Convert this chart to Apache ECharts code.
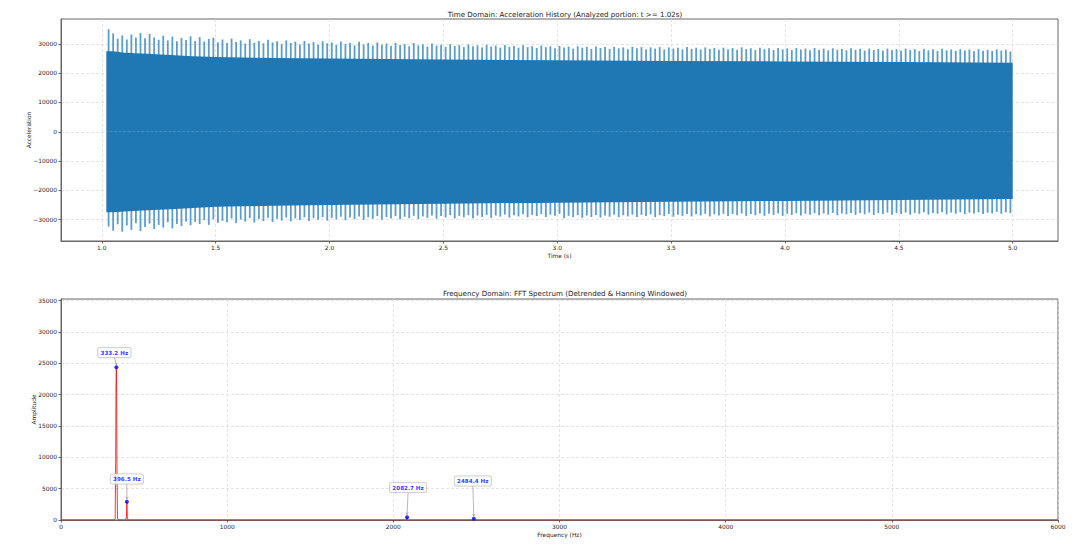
<!DOCTYPE html>
<html>
<head>
<meta charset="utf-8">
<title>Acceleration history and FFT spectrum</title>
<script src="https://cdn.jsdelivr.net/npm/echarts@6/dist/echarts.min.js"></script>
<style>
  html, body { margin: 0; padding: 0; background: #fff; }
  #main { width: 1080px; height: 554px; }
</style>
</head>
<body>
<div id="main"></div>
<script>
// ---- tick labels ----
const timeTicks = [1.0, 1.5, 2.0, 2.5, 3.0, 3.5, 4.0, 4.5, 5.0];
const accelTicks = [-30000, -20000, -10000, 0, 10000, 20000, 30000];
const freqTicks = [0, 1000, 2000, 3000, 4000, 5000, 6000];
const ampTicks = [0, 5000, 10000, 15000, 20000, 25000, 30000, 35000];

// ---- time domain: max / min of the signal per 0.02 s bin ----
const spikeTimes = [
  1.03, 1.05, 1.07, 1.09, 1.11, 1.13, 1.15, 1.17, 1.19, 1.21,
  1.23, 1.25, 1.27, 1.29, 1.31, 1.33, 1.35, 1.37, 1.39, 1.41,
  1.43, 1.45, 1.47, 1.49, 1.51, 1.53, 1.55, 1.57, 1.59, 1.61,
  1.63, 1.65, 1.67, 1.69, 1.71, 1.73, 1.75, 1.77, 1.79, 1.81,
  1.83, 1.85, 1.87, 1.89, 1.91, 1.93, 1.95, 1.97, 1.99, 2.01,
  2.03, 2.05, 2.07, 2.09, 2.11, 2.13, 2.15, 2.17, 2.19, 2.21,
  2.23, 2.25, 2.27, 2.29, 2.31, 2.33, 2.35, 2.37, 2.39, 2.41,
  2.43, 2.45, 2.47, 2.49, 2.51, 2.53, 2.55, 2.57, 2.59, 2.61,
  2.63, 2.65, 2.67, 2.69, 2.71, 2.73, 2.75, 2.77, 2.79, 2.81,
  2.83, 2.85, 2.87, 2.89, 2.91, 2.93, 2.95, 2.97, 2.99, 3.01,
  3.03, 3.05, 3.07, 3.09, 3.11, 3.13, 3.15, 3.17, 3.19, 3.21,
  3.23, 3.25, 3.27, 3.29, 3.31, 3.33, 3.35, 3.37, 3.39, 3.41,
  3.43, 3.45, 3.47, 3.49, 3.51, 3.53, 3.55, 3.57, 3.59, 3.61,
  3.63, 3.65, 3.67, 3.69, 3.71, 3.73, 3.75, 3.77, 3.79, 3.81,
  3.83, 3.85, 3.87, 3.89, 3.91, 3.93, 3.95, 3.97, 3.99, 4.01,
  4.03, 4.05, 4.07, 4.09, 4.11, 4.13, 4.15, 4.17, 4.19, 4.21,
  4.23, 4.25, 4.27, 4.29, 4.31, 4.33, 4.35, 4.37, 4.39, 4.41,
  4.43, 4.45, 4.47, 4.49, 4.51, 4.53, 4.55, 4.57, 4.59, 4.61,
  4.63, 4.65, 4.67, 4.69, 4.71, 4.73, 4.75, 4.77, 4.79, 4.81,
  4.83, 4.85, 4.87, 4.89, 4.91, 4.93, 4.95, 4.97, 4.99
];
const spikeHigh = [
  35000, 33600, 31800, 32900, 31500, 33200, 32100, 33700, 31900, 33400,
  32200, 31400, 32800, 31200, 32500, 30900, 32000, 31300, 32600, 31000,
  32300, 30800, 31700, 32100, 30600, 31500, 30300, 31800, 30700, 31200,
  30100, 31600, 30400, 31000, 30200, 31400, 30500, 30900, 29900, 31200,
  30300, 30800, 29800, 31000, 30100, 30600, 29700, 30900, 30200, 30500,
  29600, 30800, 29900, 30400, 29500, 30700, 29800, 30300, 29400, 30500,
  29700, 30100, 29300, 30400, 29600, 29900, 29200, 30300, 29500, 29800,
  29100, 30100, 29400, 29700, 29000, 29900, 29300, 29600, 28900, 29800,
  29200, 29500, 28800, 29700, 29100, 29400, 28700, 29600, 29000, 29300,
  28700, 29500, 28900, 29200, 28600, 29400, 28900, 29200, 28500, 29300,
  28800, 29100, 28400, 29200, 28700, 29000, 28300, 29100, 28600, 28900,
  28300, 29000, 28500, 28800, 28200, 29000, 28500, 28900, 28200, 28800,
  28400, 28900, 28100, 28800, 28400, 28700, 28100, 28900, 28300, 28700,
  28100, 28800, 28300, 28600, 28000, 28700, 28200, 28600, 28000, 28800,
  28200, 28500, 27900, 28700, 28200, 28500, 27900, 28600, 28100, 28500,
  27900, 28600, 28100, 28400, 27800, 28600, 28000, 28400, 27800, 28500,
  28000, 28300, 27800, 28500, 28000, 28300, 27700, 28400, 27900, 28300,
  27700, 28400, 27900, 28200, 27700, 28400, 27900, 28200, 27600, 28300,
  27800, 28200, 27600, 28300, 27800, 28100, 27600, 28200, 27800, 28100,
  27500, 28200, 27700, 28000, 27600, 28100, 27700, 28000, 27400
];
const spikeLow = [
  -32400, -33800, -31600, -34100, -32000, -33500, -31200, -33900, -32500, -31400,
  -33200, -31800, -32700, -30900, -33000, -31500, -32200, -30600, -31900, -30800,
  -31500, -30200, -31800, -29900, -31100, -30400, -30900, -29600, -31200, -30000,
  -30700, -29500, -31000, -29800, -30500, -29400, -30800, -29700, -30300, -29300,
  -30600, -29600, -30100, -29200, -30500, -29500, -30000, -29100, -30300, -29400,
  -29900, -29000, -30200, -29300, -29800, -28900, -30100, -29200, -29700, -28800,
  -30000, -29100, -29600, -28800, -29900, -29000, -29500, -28700, -29800, -28900,
  -29400, -28600, -29700, -28800, -29300, -28500, -29600, -28700, -29200, -28500,
  -29500, -28600, -29100, -28400, -29400, -28600, -29000, -28300, -29300, -28500,
  -28900, -28200, -29200, -28400, -28800, -28100, -29100, -28300, -28700, -28000,
  -29500, -28700, -29200, -28500, -29400, -28600, -29100, -28400, -29300, -28600,
  -29000, -28300, -29200, -28500, -28900, -28300, -29100, -28400, -28800, -28200,
  -29100, -28400, -28800, -28100, -29000, -28300, -28700, -28100, -28900, -28200,
  -28600, -28000, -28900, -28200, -28600, -28000, -28800, -28100, -28500, -27900,
  -28800, -28100, -28500, -27900, -28700, -28000, -28400, -27900, -28700, -28000,
  -28400, -27800, -28600, -28000, -28300, -27800, -28500, -27900, -28300, -27700,
  -28500, -27900, -28200, -27700, -28400, -27800, -28200, -27600, -28400, -27800,
  -28100, -27600, -28300, -27700, -28100, -27600, -28300, -27700, -28000, -27500,
  -28300, -27700, -28000, -27500, -28200, -27600, -28000, -27500, -28100, -27600,
  -27900, -27500, -28100, -27600, -27900, -27400, -28000, -27500, -27800
];

// dense (solid) part of the oscillation
const coreTimes = [1.02, 1.05, 1.1, 1.2, 1.3, 1.4, 1.5, 1.75, 2.0, 2.5, 3.0, 3.5, 4.0, 4.5, 5.0];
const coreUpper = [27500, 27500, 27000, 26600, 26200, 25800, 25500, 25200, 25000, 24700, 24400, 24200, 24000, 23800, 23600];
const coreLower = [-27500, -27500, -27200, -26800, -26500, -26000, -25600, -25300, -25000, -24600, -24200, -23900, -23600, -23300, -23000];

// ---- frequency domain ----
const specFreq = [0, 320, 326, 329, 331, 333.2, 335, 337, 340, 346, 390, 394, 396.5, 399, 403,
  2075, 2080, 2082.7, 2085, 2090, 2477, 2482, 2484.4, 2487, 2492, 6000];
const specAmp = [0, 0, 200, 9000, 21000, 24350, 20000, 8000, 300, 0, 0, 600, 2920, 500, 0,
  0, 80, 430, 70, 0, 0, 40, 200, 30, 0, 0];
const peakFreqs = [333.2, 396.5, 2082.7, 2484.4];
const peakAmps = [24350, 2920, 430, 200];

// annotation placement (pixels above / beside each peak)
const annoLift = [15, 23, 30, 38];
const annoShift = [-2, 0, 1, -1];

const FONT = 'DejaVu Sans';
const TEXT = '#222';
const plain = (v) => String(v).replace('-', '\u2212');

const chart = echarts.init(document.getElementById('main'), null, { renderer: 'svg' });

const gridLine = { show: true, lineStyle: { color: '#d8d8d8', width: 0.7, type: [3, 2] } };
const axisLineStyle = { show: true, onZero: false, lineStyle: { color: '#666', width: 1 } };
const tickStyle = { show: true, length: 2.5, lineStyle: { color: '#444', width: 0.8 } };
const labelStyle = { color: TEXT, fontFamily: FONT, fontSize: 5.9, margin: 4 };
const nameStyle = { color: TEXT, fontFamily: FONT, fontSize: 5.9 };

const option = {
  animation: false,
  textStyle: { fontFamily: FONT },
  title: [
    {
      text: 'Time Domain: Acceleration History (Analyzed portion: t >= 1.02s)',
      left: 560, top: 6, textAlign: 'center',
      textStyle: { fontFamily: FONT, fontSize: 7.1, fontWeight: 'normal', color: TEXT },
    },
    {
      text: 'Frequency Domain: FFT Spectrum (Detrended & Hanning Windowed)',
      left: 560, top: 285, textAlign: 'center',
      textStyle: { fontFamily: FONT, fontSize: 7.1, fontWeight: 'normal', color: TEXT },
    },
  ],
  grid: [
    { left: 61, right: 22, top: 19, height: 222, show: true, borderColor: '#666', borderWidth: 1, containLabel: false },
    { left: 61, right: 22, top: 299, height: 221, show: true, borderColor: '#666', borderWidth: 1, containLabel: false },
  ],
  xAxis: [
    {
      type: 'value', gridIndex: 0, min: 0.821, max: 5.199,
      name: 'Time (s)', nameLocation: 'middle', nameGap: 12, nameMoveOverlap: false, nameTextStyle: nameStyle,
      axisLine: axisLineStyle,
      axisTick: { ...tickStyle, customValues: timeTicks },
      axisLabel: { ...labelStyle, customValues: timeTicks, formatter: (v) => v.toFixed(1) },
      splitLine: gridLine,
    },
    {
      type: 'value', gridIndex: 1, min: 0, max: 6000, interval: 1000,
      name: 'Frequency (Hz)', nameLocation: 'middle', nameGap: 12, nameMoveOverlap: false, nameTextStyle: nameStyle,
      axisLine: axisLineStyle,
      axisTick: { ...tickStyle, customValues: freqTicks },
      axisLabel: { ...labelStyle, customValues: freqTicks, formatter: plain },
      splitLine: gridLine,
    },
  ],
  yAxis: [
    {
      type: 'value', gridIndex: 0, min: -37300, max: 38500,
      name: 'Acceleration', nameLocation: 'middle', nameGap: 29, nameMoveOverlap: false, nameTextStyle: nameStyle,
      axisLine: axisLineStyle,
      axisTick: { ...tickStyle, customValues: accelTicks },
      axisLabel: { ...labelStyle, customValues: accelTicks, formatter: plain },
      splitLine: gridLine,
    },
    {
      type: 'value', gridIndex: 1, min: 0, max: 35250,
      name: 'Amplitude', nameLocation: 'middle', nameGap: 24, nameMoveOverlap: false, nameTextStyle: nameStyle,
      axisLine: axisLineStyle,
      axisTick: { ...tickStyle, customValues: ampTicks },
      axisLabel: { ...labelStyle, customValues: ampTicks, formatter: plain },
      splitLine: gridLine,
    },
  ],
  series: [
    {
      name: 'core upper', type: 'line', xAxisIndex: 0, yAxisIndex: 0,
      data: coreTimes.map((t, i) => [t, coreUpper[i]]),
      symbol: 'none', silent: true, color: '#1f77b4',
      lineStyle: { width: 0 }, areaStyle: { color: '#1f77b4', opacity: 1 },
    },
    {
      name: 'core lower', type: 'line', xAxisIndex: 0, yAxisIndex: 0,
      data: coreTimes.map((t, i) => [t, coreLower[i]]),
      symbol: 'none', silent: true, color: '#1f77b4',
      lineStyle: { width: 0 }, areaStyle: { color: '#1f77b4', opacity: 1 },
    },
    {
      name: 'Acceleration', type: 'custom', xAxisIndex: 0, yAxisIndex: 0,
      data: spikeTimes.map((t, i) => [t, spikeLow[i], spikeHigh[i]]),
      encode: { x: 0, y: [1, 2] },
      clip: true, silent: true,
      renderItem: (params, api) => {
        const top = api.coord([api.value(0), api.value(2)]);
        const bot = api.coord([api.value(0), api.value(1)]);
        return {
          type: 'line',
          shape: { x1: top[0], y1: top[1], x2: bot[0], y2: bot[1] },
          style: { stroke: '#1f77b4', lineWidth: 1.8, opacity: 0.72 },
        };
      },
    },
    {
      name: 'Spectrum', type: 'line', xAxisIndex: 1, yAxisIndex: 1,
      data: specFreq.map((f, i) => [f, specAmp[i]]),
      symbol: 'none', silent: true, color: '#ff0000',
      lineStyle: { color: '#ff0000', width: 1, opacity: 0.8 },
    },
    {
      name: 'Peaks', type: 'scatter', xAxisIndex: 1, yAxisIndex: 1, z: 5,
      symbol: 'circle', symbolSize: 4, itemStyle: { color: '#0000ff' },
      data: peakFreqs.map((f, i) => ({
        value: [f, peakAmps[i]],
        label: { distance: annoLift[i] - 7, offset: [annoShift[i], 0] },
      })),
      label: {
        show: true, position: 'top',
        formatter: (p) => p.value[0].toFixed(1) + ' Hz',
        color: '#0000ff', fontFamily: FONT, fontWeight: 'bold', fontSize: 5.6, lineHeight: 6.5,
        backgroundColor: '#fff', borderColor: '#bbb', borderWidth: 0.8, borderRadius: 2,
        padding: [1.5, 2.5],
      },
    },
  ],
};

chart.setOption(option);

// arrows from each annotation box down to its peak
const arrows = [];
peakFreqs.forEach((f, i) => {
  const p = chart.convertToPixel({ xAxisIndex: 1, yAxisIndex: 1 }, [f, peakAmps[i]]);
  const sx = p[0] + annoShift[i];
  const sy = p[1] - annoLift[i] + 5;
  const ex = p[0];
  const ey = p[1] - 2.5;
  const ang = Math.atan2(ey - sy, ex - sx);
  const h = 2.5;
  arrows.push({
    type: 'line', silent: true, z: 4,
    shape: { x1: sx, y1: sy, x2: ex, y2: ey },
    style: { stroke: '#999', lineWidth: 0.7 },
  });
  arrows.push({
    type: 'polyline', silent: true, z: 4,
    shape: {
      points: [
        [ex - h * Math.cos(ang - 0.45), ey - h * Math.sin(ang - 0.45)],
        [ex, ey],
        [ex - h * Math.cos(ang + 0.45), ey - h * Math.sin(ang + 0.45)],
      ],
    },
    style: { stroke: '#999', fill: null, lineWidth: 0.7 },
  });
});
chart.setOption({ graphic: arrows });
</script>
</body>
</html>
